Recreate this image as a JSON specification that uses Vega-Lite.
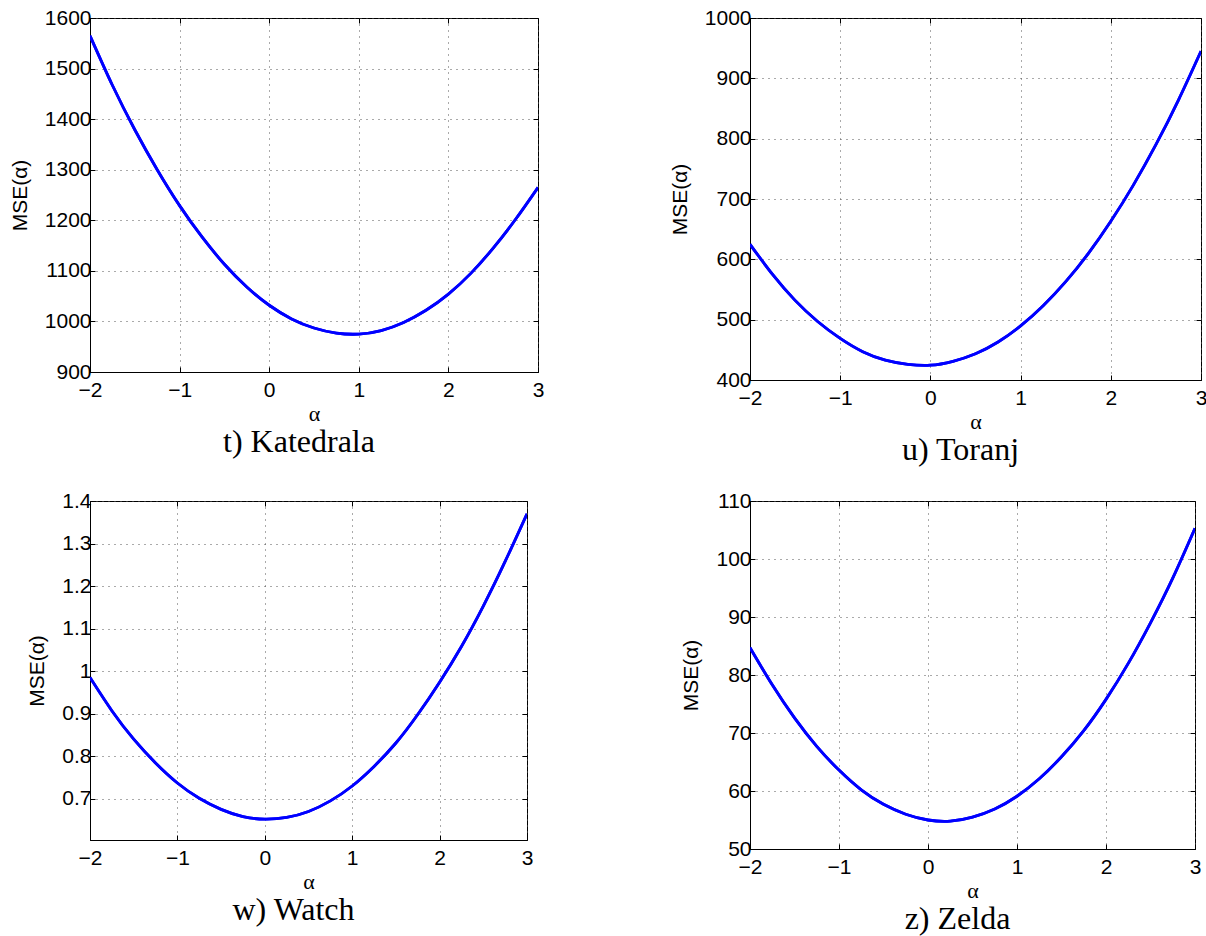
{
  "$schema": "https://vega.github.io/schema/vega-lite/v6.json",
  "background": "white",
  "padding": {"left": 8, "top": 6, "right": 5, "bottom": 2},
  "config": {
    "view": {"stroke": "black", "strokeWidth": 1},
    "axis": {
      "labelFont": "Liberation Sans", "labelFontSize": 21, "labelColor": "black",
      "tickColor": "black", "tickSize": -5, "domainColor": "black", "domainWidth": 1,
      "gridColor": "#555555", "gridDash": [1, 5], "gridWidth": 1,
      "labelOverlap": false, "labelFlush": false, "titleColor": "black", "titleFontWeight": "normal"
    },
    "title": {"font": "Liberation Serif", "fontSize": 32, "fontWeight": "normal", "color": "black", "orient": "bottom", "frame": "group", "anchor": "middle", "dx": -15, "offset": 3}
  },
  "datasets": {
    "curves": [
      {"p": "t", "a": -2, "m": 1565}, {"p": "t", "a": -1.75, "m": 1467}, {"p": "t", "a": -1.5, "m": 1379}, {"p": "t", "a": -1.25, "m": 1300},
      {"p": "t", "a": -1, "m": 1229}, {"p": "t", "a": -0.75, "m": 1167}, {"p": "t", "a": -0.5, "m": 1113}, {"p": "t", "a": -0.25, "m": 1068},
      {"p": "t", "a": 0, "m": 1032}, {"p": "t", "a": 0.25, "m": 1005}, {"p": "t", "a": 0.5, "m": 987}, {"p": "t", "a": 0.75, "m": 977},
      {"p": "t", "a": 1, "m": 975}, {"p": "t", "a": 1.25, "m": 982}, {"p": "t", "a": 1.5, "m": 998}, {"p": "t", "a": 1.75, "m": 1022},
      {"p": "t", "a": 2, "m": 1054}, {"p": "t", "a": 2.25, "m": 1095}, {"p": "t", "a": 2.5, "m": 1145}, {"p": "t", "a": 2.75, "m": 1202},
      {"p": "t", "a": 3, "m": 1265},
      {"p": "u", "a": -2, "m": 625}, {"p": "u", "a": -1.75, "m": 575}, {"p": "u", "a": -1.5, "m": 532}, {"p": "u", "a": -1.25, "m": 497},
      {"p": "u", "a": -1, "m": 469}, {"p": "u", "a": -0.75, "m": 447}, {"p": "u", "a": -0.5, "m": 433}, {"p": "u", "a": -0.25, "m": 426},
      {"p": "u", "a": 0, "m": 424.5}, {"p": "u", "a": 0.25, "m": 431}, {"p": "u", "a": 0.5, "m": 443.5}, {"p": "u", "a": 0.75, "m": 463},
      {"p": "u", "a": 1, "m": 489.6}, {"p": "u", "a": 1.25, "m": 523}, {"p": "u", "a": 1.5, "m": 563}, {"p": "u", "a": 1.75, "m": 609.5},
      {"p": "u", "a": 2, "m": 663}, {"p": "u", "a": 2.25, "m": 723}, {"p": "u", "a": 2.5, "m": 790}, {"p": "u", "a": 2.75, "m": 864},
      {"p": "u", "a": 3, "m": 945},
      {"p": "w", "a": -2, "m": 0.985}, {"p": "w", "a": -1.75, "m": 0.907}, {"p": "w", "a": -1.5, "m": 0.84}, {"p": "w", "a": -1.25, "m": 0.784},
      {"p": "w", "a": -1, "m": 0.737}, {"p": "w", "a": -0.75, "m": 0.701}, {"p": "w", "a": -0.5, "m": 0.675}, {"p": "w", "a": -0.25, "m": 0.658},
      {"p": "w", "a": 0, "m": 0.652}, {"p": "w", "a": 0.25, "m": 0.656}, {"p": "w", "a": 0.5, "m": 0.67}, {"p": "w", "a": 0.75, "m": 0.695},
      {"p": "w", "a": 1, "m": 0.73}, {"p": "w", "a": 1.25, "m": 0.776}, {"p": "w", "a": 1.5, "m": 0.831}, {"p": "w", "a": 1.75, "m": 0.898},
      {"p": "w", "a": 2, "m": 0.974}, {"p": "w", "a": 2.25, "m": 1.058}, {"p": "w", "a": 2.5, "m": 1.153}, {"p": "w", "a": 2.75, "m": 1.258},
      {"p": "w", "a": 3, "m": 1.37},
      {"p": "z", "a": -2, "m": 84.7}, {"p": "z", "a": -1.75, "m": 78.3}, {"p": "z", "a": -1.5, "m": 72.6}, {"p": "z", "a": -1.25, "m": 67.7},
      {"p": "z", "a": -1, "m": 63.6}, {"p": "z", "a": -0.75, "m": 60.2}, {"p": "z", "a": -0.5, "m": 57.7}, {"p": "z", "a": -0.25, "m": 56.0},
      {"p": "z", "a": 0, "m": 55.0}, {"p": "z", "a": 0.25, "m": 54.8}, {"p": "z", "a": 0.5, "m": 55.5}, {"p": "z", "a": 0.75, "m": 56.9},
      {"p": "z", "a": 1, "m": 59.1}, {"p": "z", "a": 1.25, "m": 62.1}, {"p": "z", "a": 1.5, "m": 65.9}, {"p": "z", "a": 1.75, "m": 70.4},
      {"p": "z", "a": 2, "m": 75.8}, {"p": "z", "a": 2.25, "m": 82.0}, {"p": "z", "a": 2.5, "m": 89.0}, {"p": "z", "a": 2.75, "m": 96.7},
      {"p": "z", "a": 3, "m": 105.3}
    ]
  },
  "data": {"name": "curves"},
  "columns": 2,
  "spacing": {"row": 121, "column": 209},
  "bounds": "flush",
  "align": "all",
  "concat": [
    {
      "width": 448, "height": 354,
      "title": {"text": "t) Katedrala"},
      "transform": [{"filter": "datum.p === 't'"}],
      "layer": [
        {
          "mark": {"type": "line", "color": "#0000ff", "strokeWidth": 2.8, "interpolate": "natural", "clip": true},
          "encoding": {
            "x": {"field": "a", "type": "quantitative", "scale": {"domain": [-2, 3], "nice": false, "zero": false},
              "axis": {"orient": "bottom", "values": [-2, -1, 0, 1, 2, 3], "format": "d", "grid": true, "labelPadding": 12, "title": "α", "titleFont": "Liberation Serif", "titleFontSize": 22, "titlePadding": 3}},
            "y": {"field": "m", "type": "quantitative", "scale": {"domain": [900, 1600], "nice": false, "zero": false},
              "axis": {"orient": "left", "values": [900, 1000, 1100, 1200, 1300, 1400, 1500, 1600], "format": "d", "grid": true, "labelPadding": 4, "title": "MSE(α)", "titleFont": "Liberation Sans", "titleFontSize": 21, "titlePadding": 14}}
          }
        },
        {
          "mark": {"type": "line", "color": "#0000ff", "strokeWidth": 2.8, "interpolate": "natural", "clip": true},
          "encoding": {
            "x": {"field": "a", "type": "quantitative", "axis": {"orient": "top", "values": [-2, -1, 0, 1, 2, 3], "labels": false, "domain": false, "grid": false, "title": null}},
            "y": {"field": "m", "type": "quantitative", "axis": {"orient": "right", "values": [900, 1000, 1100, 1200, 1300, 1400, 1500, 1600], "labels": false, "domain": false, "grid": false, "title": null}}
          }
        }
      ],
      "resolve": {"axis": {"x": "independent", "y": "independent"}}
    },
    {
      "width": 451, "height": 362,
      "title": {"text": "u) Toranj"},
      "transform": [{"filter": "datum.p === 'u'"}],
      "layer": [
        {
          "mark": {"type": "line", "color": "#0000ff", "strokeWidth": 2.8, "interpolate": "natural", "clip": true},
          "encoding": {
            "x": {"field": "a", "type": "quantitative", "scale": {"domain": [-2, 3], "nice": false, "zero": false},
              "axis": {"orient": "bottom", "values": [-2, -1, 0, 1, 2, 3], "format": "d", "grid": true, "labelPadding": 12, "title": "α", "titleFont": "Liberation Serif", "titleFontSize": 22, "titlePadding": 3}},
            "y": {"field": "m", "type": "quantitative", "scale": {"domain": [400, 1000], "nice": false, "zero": false},
              "axis": {"orient": "left", "values": [400, 500, 600, 700, 800, 900, 1000], "format": "d", "grid": true, "labelPadding": 4, "title": "MSE(α)", "titleFont": "Liberation Sans", "titleFontSize": 21, "titlePadding": 14}}
          }
        },
        {
          "mark": {"type": "line", "color": "#0000ff", "strokeWidth": 2.8, "interpolate": "natural", "clip": true},
          "encoding": {
            "x": {"field": "a", "type": "quantitative", "axis": {"orient": "top", "values": [-2, -1, 0, 1, 2, 3], "labels": false, "domain": false, "grid": false, "title": null}},
            "y": {"field": "m", "type": "quantitative", "axis": {"orient": "right", "values": [400, 500, 600, 700, 800, 900, 1000], "labels": false, "domain": false, "grid": false, "title": null}}
          }
        }
      ],
      "resolve": {"axis": {"x": "independent", "y": "independent"}}
    },
    {
      "width": 437, "height": 339,
      "title": {"text": "w) Watch"},
      "transform": [{"filter": "datum.p === 'w'"}],
      "layer": [
        {
          "mark": {"type": "line", "color": "#0000ff", "strokeWidth": 2.8, "interpolate": "natural", "clip": true},
          "encoding": {
            "x": {"field": "a", "type": "quantitative", "scale": {"domain": [-2, 3], "nice": false, "zero": false},
              "axis": {"orient": "bottom", "values": [-2, -1, 0, 1, 2, 3], "format": "d", "grid": true, "labelPadding": 12, "title": "α", "titleFont": "Liberation Serif", "titleFontSize": 22, "titlePadding": 3}},
            "y": {"field": "m", "type": "quantitative", "scale": {"domain": [0.603, 1.4], "nice": false, "zero": false},
              "axis": {"orient": "left", "values": [0.7, 0.8, 0.9, 1, 1.1, 1.2, 1.3, 1.4], "format": "~f", "grid": true, "labelPadding": 4, "title": "MSE(α)", "titleFont": "Liberation Sans", "titleFontSize": 21, "titlePadding": 14}}
          }
        },
        {
          "mark": {"type": "line", "color": "#0000ff", "strokeWidth": 2.8, "interpolate": "natural", "clip": true},
          "encoding": {
            "x": {"field": "a", "type": "quantitative", "axis": {"orient": "top", "values": [-2, -1, 0, 1, 2, 3], "labels": false, "domain": false, "grid": false, "title": null}},
            "y": {"field": "m", "type": "quantitative", "axis": {"orient": "right", "values": [0.7, 0.8, 0.9, 1, 1.1, 1.2, 1.3, 1.4], "labels": false, "domain": false, "grid": false, "title": null}}
          }
        }
      ],
      "resolve": {"axis": {"x": "independent", "y": "independent"}}
    },
    {
      "width": 445, "height": 348,
      "title": {"text": "z) Zelda"},
      "transform": [{"filter": "datum.p === 'z'"}],
      "layer": [
        {
          "mark": {"type": "line", "color": "#0000ff", "strokeWidth": 2.8, "interpolate": "natural", "clip": true},
          "encoding": {
            "x": {"field": "a", "type": "quantitative", "scale": {"domain": [-2, 3], "nice": false, "zero": false},
              "axis": {"orient": "bottom", "values": [-2, -1, 0, 1, 2, 3], "format": "d", "grid": true, "labelPadding": 12, "title": "α", "titleFont": "Liberation Serif", "titleFontSize": 22, "titlePadding": 3}},
            "y": {"field": "m", "type": "quantitative", "scale": {"domain": [50, 110], "nice": false, "zero": false},
              "axis": {"orient": "left", "values": [50, 60, 70, 80, 90, 100, 110], "format": "d", "grid": true, "labelPadding": 4, "title": "MSE(α)", "titleFont": "Liberation Sans", "titleFontSize": 21, "titlePadding": 14}}
          }
        },
        {
          "mark": {"type": "line", "color": "#0000ff", "strokeWidth": 2.8, "interpolate": "natural", "clip": true},
          "encoding": {
            "x": {"field": "a", "type": "quantitative", "axis": {"orient": "top", "values": [-2, -1, 0, 1, 2, 3], "labels": false, "domain": false, "grid": false, "title": null}},
            "y": {"field": "m", "type": "quantitative", "axis": {"orient": "right", "values": [50, 60, 70, 80, 90, 100, 110], "labels": false, "domain": false, "grid": false, "title": null}}
          }
        }
      ],
      "resolve": {"axis": {"x": "independent", "y": "independent"}}
    }
  ]
}
